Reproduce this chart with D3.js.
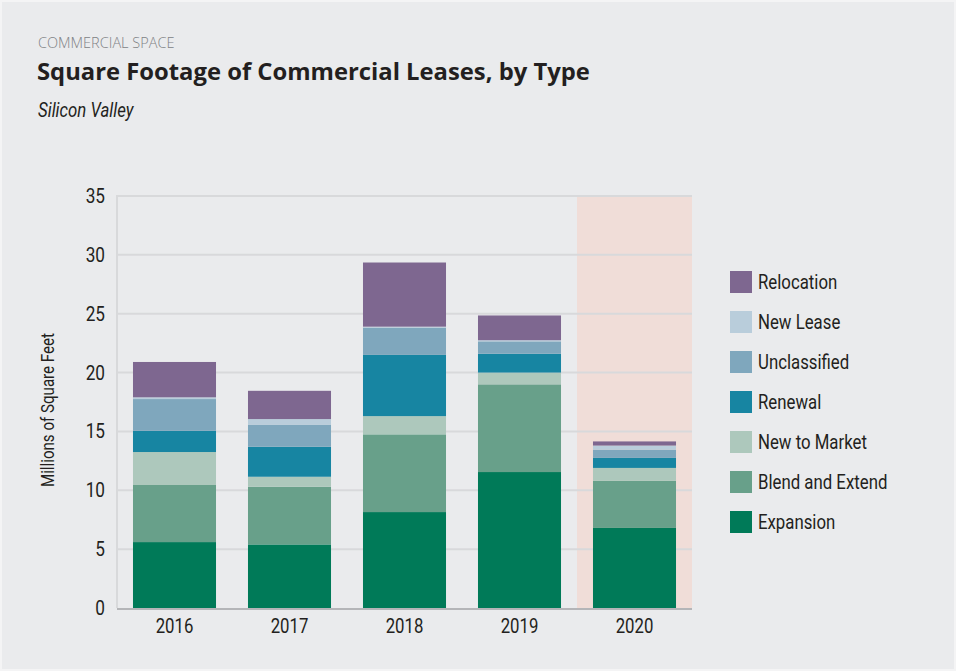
<!DOCTYPE html>
<html>
<head>
<meta charset="utf-8">
<script src="https://cdn.jsdelivr.net/npm/d3@7"></script>
<style>
  html, body { margin: 0; padding: 0; background: #f4f4f5; }
  #chart { width: 956px; height: 671px; }
</style>
</head>
<body>
<div id="chart"></div>
<script>
const years = ['2016', '2017', '2018', '2019', '2020'];
const types = ['Expansion', 'Blend and Extend', 'New to Market', 'Renewal', 'Unclassified', 'New Lease', 'Relocation'];
const colors = ['#007a58', '#68a08a', '#adc8bc', '#1785a2', '#7fa7bd', '#b9cddb', '#7e6790'];

// millions of sq ft
const expansion     = [5.6, 5.4, 8.15, 11.55, 6.8];
const blendExtend   = [4.85, 4.9, 6.6, 7.45, 4.0];
const newToMarket   = [2.8, 0.85, 1.55, 1.0, 1.1];
const renewal       = [1.8, 2.55, 5.2, 1.6, 0.85];
const unclassified  = [2.7, 1.85, 2.3, 1.05, 0.7];
const newLease      = [0.15, 0.5, 0.1, 0.1, 0.35];
const relocation    = [3.0, 2.4, 5.45, 2.1, 0.35];

const yTicks = [0, 5, 10, 15, 20, 25, 30, 35];
const highlightYear = '2020';

const series = [expansion, blendExtend, newToMarket, renewal, unclassified, newLease, relocation];
const rows = years.map((y, i) => {
  const r = { year: y };
  types.forEach((t, k) => r[t] = series[k][i]);
  return r;
});

const width = 956, height = 671;
const margin = { top: 196, right: 264, bottom: 63, left: 117 };
const innerWidth = width - margin.left - margin.right;
const innerHeight = height - margin.top - margin.bottom;

// the original uses a condensed face; squeeze Roboto horizontally instead
const SX = 0.84;
function narrow(sel, size) {
  sel.attr('font-family', 'Roboto, sans-serif')
    .attr('font-size', size)
    .attr('fill', '#231f20');
}

const root = d3.select('#chart').append('svg')
  .attr('width', width)
  .attr('height', height);

root.append('rect')
  .attr('x', 2).attr('y', 2)
  .attr('width', width - 4).attr('height', height - 4)
  .attr('fill', '#eaebed');

root.append('text')
  .attr('x', 38).attr('y', 48)
  .attr('font-family', '"Open Sans", sans-serif')
  .attr('font-weight', 300)
  .attr('font-size', '14.5px')
  .attr('fill', '#808285')
  .text('COMMERCIAL SPACE');

root.append('text')
  .attr('x', 37).attr('y', 80)
  .attr('font-family', '"Open Sans", sans-serif')
  .attr('font-weight', 'bold')
  .attr('font-size', '23.8px')
  .attr('fill', '#231f20')
  .text('Square Footage of Commercial Leases, by Type');

root.append('text')
  .attr('transform', `translate(38,117) scale(${SX},1)`)
  .attr('font-style', 'italic')
  .call(narrow, '20px')
  .text('Silicon Valley');

const svg = root.append('g')
  .attr('transform', `translate(${margin.left},${margin.top})`);

const x = d3.scaleBand()
  .domain(years)
  .range([0, innerWidth])
  .paddingInner(0.278)
  .paddingOuter(0.139);

const y = d3.scaleLinear()
  .domain([0, 35])
  .range([innerHeight, 0]);

// 2020 highlight band
svg.append('rect')
  .attr('x', x(highlightYear) - x.step() * x.paddingInner() / 2)
  .attr('y', y(35) + 1)
  .attr('width', x.step())
  .attr('height', innerHeight - 1)
  .attr('fill', '#f0ddd8');

// gridlines
svg.append('g')
  .selectAll('line')
  .data(yTicks.filter(d => d > 0))
  .join('line')
  .attr('x1', 0)
  .attr('x2', innerWidth)
  .attr('y1', d => y(d))
  .attr('y2', d => y(d))
  .attr('stroke', '#d8d9db')
  .attr('stroke-width', 2);

svg.append('line')
  .attr('x1', 0).attr('x2', 0)
  .attr('y1', y(35) - 1).attr('y2', innerHeight)
  .attr('stroke', '#d8d9db')
  .attr('stroke-width', 2);

const stacked = d3.stack().keys(types)(rows);

svg.append('g')
  .selectAll('g')
  .data(stacked)
  .join('g')
  .attr('fill', (d, i) => colors[i])
  .selectAll('rect')
  .data(d => d)
  .join('rect')
  .attr('x', d => x(d.data.year))
  .attr('y', d => y(d[1]))
  .attr('width', x.bandwidth())
  .attr('height', d => y(d[0]) - y(d[1]));

// bottom axis line
svg.append('line')
  .attr('x1', 0).attr('x2', innerWidth)
  .attr('y1', innerHeight + 1).attr('y2', innerHeight + 1)
  .attr('stroke', '#b4b5b8')
  .attr('stroke-width', 2);

svg.append('g')
  .attr('transform', `translate(0,${innerHeight})`)
  .call(d3.axisBottom(x).tickSize(0).tickPadding(11))
  .call(g => g.select('.domain').remove())
  .call(g => g.selectAll('text')
    .attr('transform', `scale(${SX},1)`)
    .call(narrow, '20px'));

svg.append('g')
  .call(d3.axisLeft(y).tickValues(yTicks).tickSize(0).tickPadding(12))
  .call(g => g.select('.domain').remove())
  .call(g => g.selectAll('text')
    .attr('x', -12 / SX)
    .attr('transform', `scale(${SX},1)`)
    .call(narrow, '20.5px'));

svg.append('text')
  .attr('transform', `translate(-63,${innerHeight / 2 + 8}) rotate(-90) scale(${SX},1)`)
  .attr('text-anchor', 'middle')
  .call(narrow, '18px')
  .text('Millions of Square Feet');

// legend, top to bottom in reverse stack order
const legend = root.append('g')
  .attr('transform', 'translate(730,271)');

const items = legend.selectAll('g')
  .data(types.slice().reverse())
  .join('g')
  .attr('transform', (d, i) => `translate(0,${i * 40})`);

items.append('rect')
  .attr('width', 22)
  .attr('height', 22)
  .attr('fill', d => colors[types.indexOf(d)]);

items.append('text')
  .attr('transform', `translate(28,18) scale(${SX},1)`)
  .call(narrow, '20px')
  .text(d => d);
</script>
</body>
</html>
